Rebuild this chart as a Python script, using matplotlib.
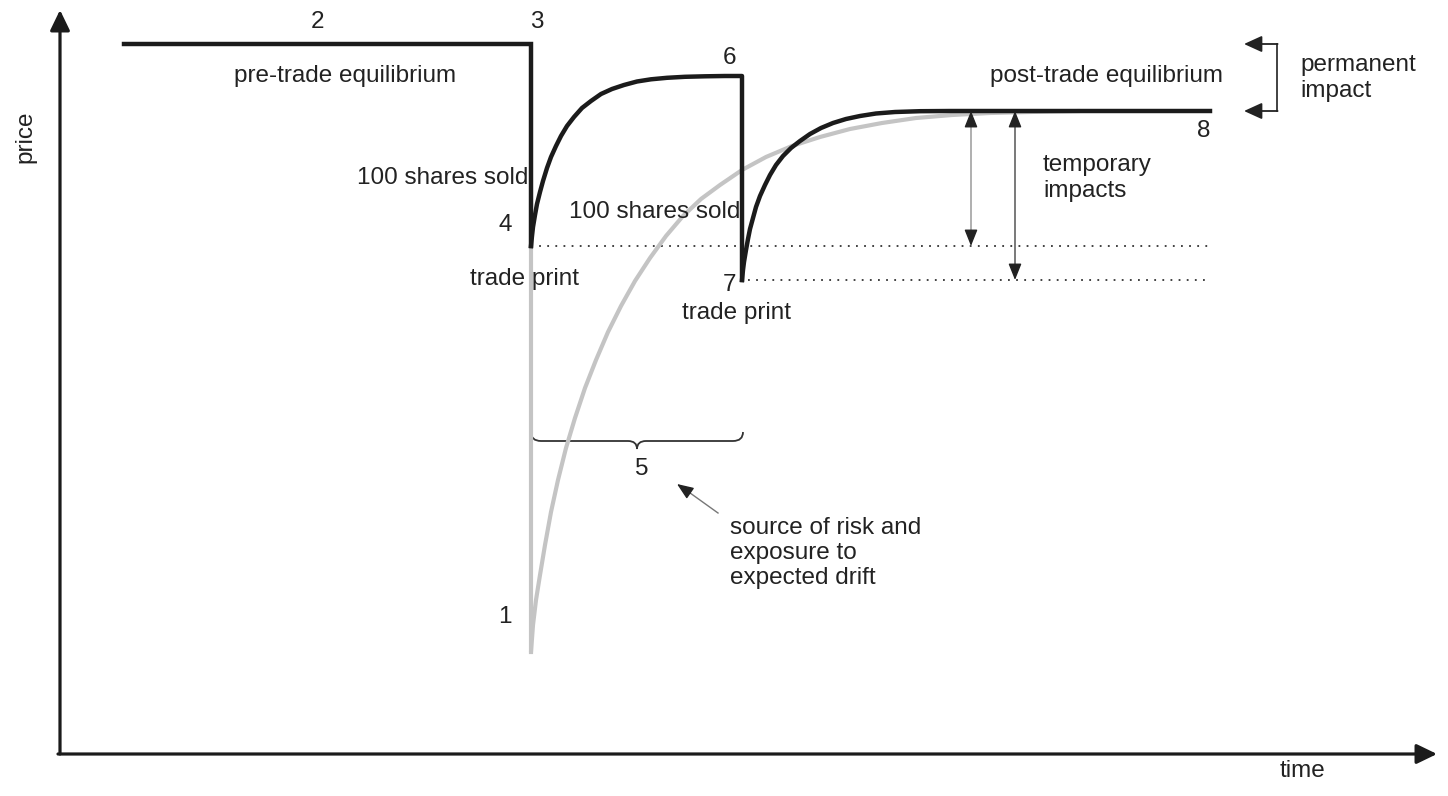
import numpy as np
import matplotlib
matplotlib.use('Agg')
from matplotlib import pyplot as plt
from matplotlib.path import Path
from matplotlib.patches import PathPatch

# diagram units: time to the right, price drawn downwards in figure space
pre_price = 44
first_rebound = 76
post_price = 111
print_1 = 246
print_2 = 280
floor_price = 652

t_start, t_trade1, t_trade2, t_end = 124, 531, 742, 1210

# black path after the first trade
rec1_t = [531, 532, 533, 535, 537, 540, 543, 547, 551, 556, 561, 567, 574, 582, 591,
          601, 612, 624, 637, 651, 667, 685, 705, 725, 742]
rec1_p = [246, 236, 227, 215, 204, 192, 181, 168, 157, 146, 136, 126, 117, 108, 101,
          94, 89, 85, 81.5, 79.3, 77.8, 76.8, 76.3, 76, 76]

# black path after the second trade
rec2_t = [742, 743, 744, 746, 748, 750, 753, 756, 760, 765, 770, 776, 783, 791, 800,
          810, 821, 833, 846, 860, 876, 895, 920, 950, 1210]
rec2_p = [280, 270, 262, 250, 239, 229, 218, 207, 196, 185, 175, 165, 156, 148, 141,
          134, 128, 123, 119, 116, 113.5, 112, 111.2, 111, 111]

# grey path (single large trade)
grey_t = [531, 533, 536, 540, 545, 551, 558, 566, 575, 585, 596, 608, 621, 635, 650,
          666, 683, 701, 720, 742, 766, 792, 820, 850, 882, 916, 952, 990, 1030, 1080]
grey_p = [652, 625, 600, 575, 545, 512, 480, 448, 418, 388, 360, 332, 306, 281, 258,
          236, 216, 199, 185, 170, 157, 146, 137, 129, 123, 118, 115, 113, 112, 111]

ink = '#1b1b1b'
txt = '#222222'

plt.rcParams['font.family'] = ['Liberation Sans', 'DejaVu Sans']
fs = 17.5

fig = plt.figure(figsize=(14.48, 7.96), dpi=100)
ax = fig.add_axes([0, 0, 1, 1])
ax.set_xlim(0, 1448)
ax.set_ylim(796, 0)
ax.axis('off')


def arrow(tip, tail, hl, hw, lw, color):
    ax.annotate('', xy=tip, xytext=tail,
                arrowprops=dict(arrowstyle='-|>,head_length=%s,head_width=%s' % (hl, hw),
                                mutation_scale=20, lw=lw, color=color,
                                shrinkA=0, shrinkB=0))


# axes arrows
arrow((60, 10), (60, 754), 0.62, 0.3, 2.3, ink)
arrow((1437, 754), (58, 754), 0.62, 0.3, 2.3, ink)

# grey single-trade path
ax.plot([t_trade1, t_trade1], [print_1, floor_price], color='#c4c4c4', lw=3, zorder=2)
ax.plot(grey_t, grey_p, color='#c4c4c4', lw=3, zorder=2, solid_capstyle='round',
        solid_joinstyle='round')

# dotted trade-print levels
ax.plot([t_trade1, t_end], [print_1, print_1], color='#333', lw=1.3, ls=(0, (1, 3.5)), zorder=1)
ax.plot([t_trade2 + 6, t_end], [print_2, print_2], color='#333', lw=1.3, ls=(0, (1, 3.5)), zorder=1)

# black path
lw = 3.2
ax.plot([t_start, t_trade1, t_trade1], [pre_price, pre_price, print_1], color=ink, lw=lw,
        zorder=3, solid_joinstyle='miter')
ax.plot(rec1_t + [t_trade2], rec1_p + [print_2], color=ink, lw=lw, zorder=3,
        solid_joinstyle='round')
ax.plot(rec2_t, rec2_p, color=ink, lw=lw, zorder=3, solid_joinstyle='round')

# temporary impact arrows
for x, lo, shaft in ((971, print_1, '#9a9a9a'), (1015, print_2, '#555555')):
    ax.plot([x, x], [post_price + 8, lo - 8], color=shaft, lw=1.1, zorder=2)
    arrow((x, post_price), (x, post_price + 12), 0.5, 0.2, 1.0, '#222')
    arrow((x, lo), (x, lo - 12), 0.5, 0.2, 1.0, '#222')

# permanent impact bracket
bx = 1277
ax.plot([bx, bx], [pre_price, post_price], color='#333', lw=1.3)
for lvl in (pre_price, post_price):
    arrow((1244, lvl), (bx + 0.6, lvl), 0.55, 0.25, 1.3, '#222')

# brace between the two trades
mid = (t_trade1 + t_trade2 + 1) / 2
verts = [(t_trade1, 432), (t_trade1, 441), (t_trade1 + 10, 441),
         (mid - 9, 441),
         (mid, 441), (mid, 449),
         (mid, 441), (mid + 9, 441),
         (t_trade2 - 9, 441),
         (t_trade2 + 1, 441), (t_trade2 + 1, 432)]
codes = [Path.MOVETO, Path.CURVE3, Path.CURVE3, Path.LINETO, Path.CURVE3, Path.CURVE3,
         Path.CURVE3, Path.CURVE3, Path.LINETO, Path.CURVE3, Path.CURVE3]
ax.add_patch(PathPatch(Path(verts, codes), fill=False, lw=1.3, edgecolor='#333'))

# pointer to the brace
ax.plot([688, 718], [491.5, 513], color='#777', lw=1.0)
arrow((677, 484), (690, 493), 0.5, 0.2, 1.0, '#222')


def label(x, y, s, ha='center', **kw):
    ax.text(x, y, s, ha=ha, va='center', fontsize=fs, color=txt, **kw)


label(317, 22, '2')
label(537, 22, '3')
label(345, 76, 'pre-trade equilibrium')
label(729, 58, '6')
label(1107, 76, 'post-trade equilibrium')
label(1300, 78, 'permanent\nimpact', ha='left')
label(1204, 131, '8')
label(1043, 178, 'temporary\nimpacts', ha='left')
label(528, 178, '100 shares sold', ha='right')
label(505, 225, '4')
label(740, 212, '100 shares sold', ha='right')
label(525, 279, 'trade print')
label(729, 285, '7')
label(737, 313, 'trade print')
label(642, 469, '5')
label(730, 553, 'source of risk and\nexposure to\nexpected drift', ha='left')
label(505, 617, '1')
label(25, 137, 'price', rotation=90)
label(1303, 771, 'time')

fig.savefig('out.png', dpi=100)
